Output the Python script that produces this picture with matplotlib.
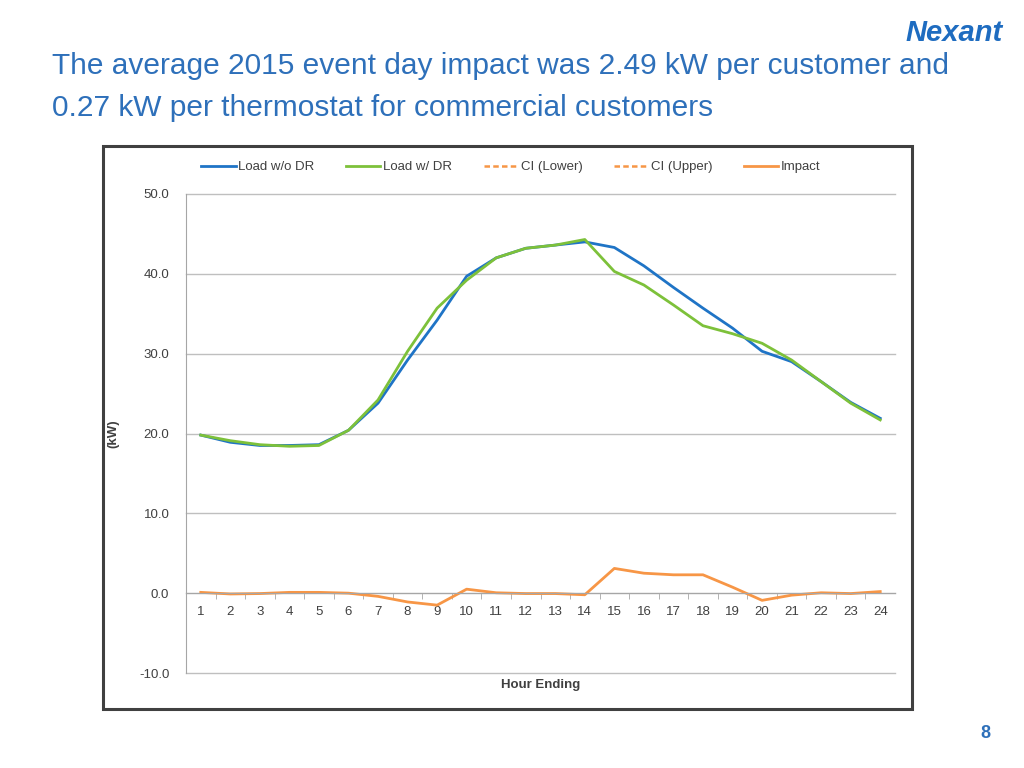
import matplotlib
matplotlib.use('Agg')
import matplotlib.pyplot as plt
from matplotlib.lines import Line2D
from matplotlib.patches import Rectangle

hours = list(range(1, 25))
load_wo_dr = [19.8, 18.9, 18.5, 18.5, 18.6, 20.4, 23.8, 29.2, 34.2, 39.7, 42.0, 43.2,
              43.6, 44.0, 43.3, 41.0, 38.3, 35.7, 33.2, 30.3, 29.0, 26.5, 23.9, 21.9]
load_w_dr = [19.8, 19.1, 18.6, 18.4, 18.5, 20.4, 24.2, 30.3, 35.7, 39.2, 42.0, 43.2,
             43.6, 44.3, 40.3, 38.6, 36.1, 33.5, 32.5, 31.3, 29.2, 26.5, 23.8, 21.7]
impact = [0.1, -0.1, -0.05, 0.1, 0.1, 0.0, -0.4, -1.1, -1.5, 0.5, 0.05, -0.05,
          -0.05, -0.2, 3.1, 2.5, 2.3, 2.3, 0.75, -0.9, -0.25, 0.05, -0.05, 0.2]
yticks = [-10, 0, 10, 20, 30, 40, 50]

c_blue = '#1F74C6'
c_green = '#7DC13A'
c_orange = '#F79646'
c_title = '#2E70BA'

plt.rcParams['font.family'] = ['Liberation Sans', 'DejaVu Sans']

fig = plt.figure(figsize=(10.24, 7.68), dpi=100)

# frame around the chart
fig.patches.append(Rectangle((103/1024, 1-709/768), (912-103)/1024, (709-146)/768,
                             transform=fig.transFigure, fill=False,
                             edgecolor='#404040', lw=2.2))

fig.text(52/1024, 1-66/768, 'The average 2015 event day impact was 2.49 kW per customer and',
         fontsize=21.5, color=c_title, va='center', ha='left')
fig.text(52/1024, 1-108/768, '0.27 kW per thermostat for commercial customers',
         fontsize=21.5, color=c_title, va='center', ha='left')
fig.text(1003/1024, 1-33/768, 'Nexant', fontsize=21, color='#1E6CC0', fontweight='bold',
         fontstyle='italic', ha='right', va='center')
fig.text(985/1024, 1-733/768, '8', fontsize=13, color=c_title, fontweight='bold',
         ha='center', va='center')

ax = fig.add_axes([186/1024, 1-673/768, (895-186)/1024, (673-194)/768])
ax.plot(hours, load_wo_dr, color=c_blue, lw=2.0)
ax.plot(hours, load_w_dr, color=c_green, lw=2.0)
ax.plot(hours, impact, color=c_orange, lw=2.0)

ax.set_xlim(0.5, 24.5)
ax.set_ylim(-10, 50)
ax.set_yticks(yticks)
ax.set_yticklabels(['%.1f' % v for v in yticks], fontsize=9.5, color='#404040')
ax.yaxis.grid(True, color='#BFBFBF', lw=1)
for gl in ax.get_ygridlines():
    gl.set_clip_on(False)
ax.set_axisbelow(True)
ax.tick_params(axis='y', length=0, pad=12)

ax.spines['top'].set_visible(False)
ax.spines['right'].set_visible(False)
ax.spines['left'].set_color('#A6A6A6')
ax.spines['bottom'].set_position(('data', 0))
ax.spines['bottom'].set_color('#A6A6A6')
ax.set_xticks(hours)
ax.set_xticklabels([str(h) for h in hours], fontsize=9.5, color='#404040')
ax.set_xticks([h + 0.5 for h in hours[:-1]], minor=True)
ax.tick_params(axis='x', which='major', length=0, pad=9)
ax.tick_params(axis='x', which='minor', length=4, color='#A6A6A6', direction='out')

ax.set_ylabel('(kW)', fontsize=9.5, fontweight='bold', color='#404040', labelpad=14)
fig.text(541/1024, 1-685/768, 'Hour Ending', fontsize=9.5, fontweight='bold',
         color='#404040', ha='center', va='center')

handles = [Line2D([], [], color=c_blue, lw=2),
           Line2D([], [], color=c_green, lw=2),
           Line2D([], [], color=c_orange, lw=1.8, ls=(0, (2.2, 1.3))),
           Line2D([], [], color=c_orange, lw=1.8, ls=(0, (2.2, 1.3))),
           Line2D([], [], color=c_orange, lw=2)]
labels = ['Load w/o DR', 'Load w/ DR', 'CI (Lower)', 'CI (Upper)', 'Impact']
fig.legend(handles, labels, loc='center', bbox_to_anchor=(511/1024, 1-167/768), ncol=5,
           frameon=False, fontsize=9.5, handlelength=2.6, handletextpad=0.2,
           columnspacing=2.4, labelcolor='#404040')

plt.savefig('out.png', dpi=100)
